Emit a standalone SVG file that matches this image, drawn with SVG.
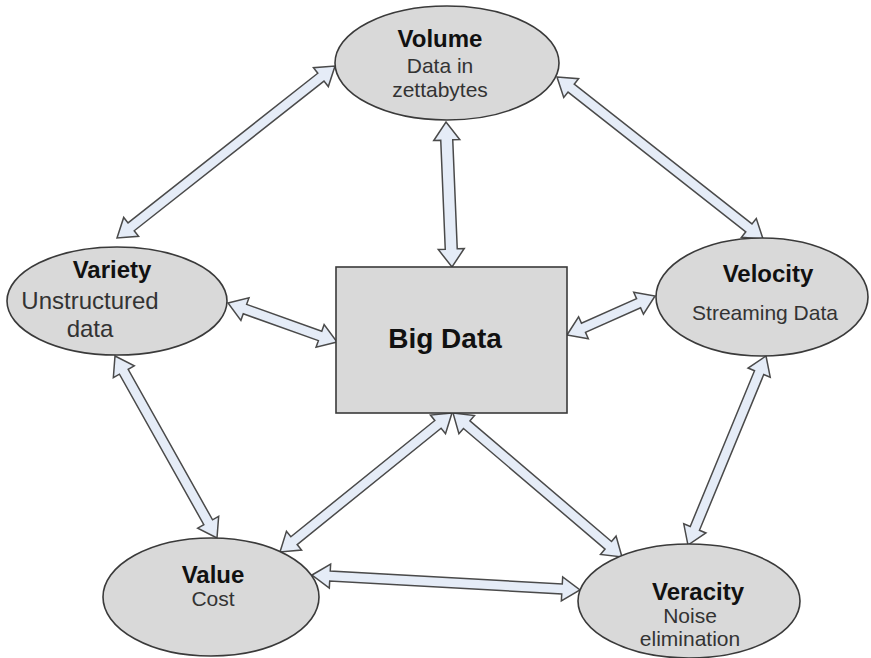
<svg xmlns="http://www.w3.org/2000/svg" width="871" height="658" viewBox="0 0 871 658">
<style>
.node{fill:#d9d9d9;stroke:#3a3a3a;stroke-width:1.6}
.arr{fill:#e5ecf7;stroke:#4a4a4a;stroke-width:1.5;stroke-linejoin:miter}
.t{font-family:"Liberation Sans",Arial,sans-serif;font-weight:bold;font-size:24px;fill:#111;text-anchor:middle}
.s{font-family:"Liberation Sans",Arial,sans-serif;font-size:21px;fill:#333;text-anchor:middle}
</style>
<rect width="871" height="658" fill="#fff"/>
<g id="connectors">
<polygon class="arr" transform="translate(117,238) rotate(-38.27)" points="0,0 18,-12 18,-5 259.7,-5 259.7,-12 277.7,0 259.7,12 259.7,5 18,5 18,12"/>
<polygon class="arr" transform="translate(446,122) rotate(87.63)" points="0,0 18,-13 18,-6 127.1,-6 127.1,-13 145.1,0 127.1,13 127.1,6 18,6 18,13"/>
<polygon class="arr" transform="translate(557,77) rotate(38.18)" points="0,0 18,-12 18,-5 244.1,-5 244.1,-12 262.1,0 244.1,12 244.1,5 18,5 18,12"/>
<polygon class="arr" transform="translate(228,303) rotate(19.69)" points="0,0 18,-12 18,-5 97.8,-5 97.8,-12 115.8,0 97.8,12 97.8,5 18,5 18,12"/>
<polygon class="arr" transform="translate(567,335) rotate(-23.9)" points="0,0 18,-12 18,-5 78.3,-5 78.3,-12 96.3,0 78.3,12 78.3,5 18,5 18,12"/>
<polygon class="arr" transform="translate(115,356) rotate(60.73)" points="0,0 18,-12 18,-5 190.6,-5 190.6,-12 208.6,0 190.6,12 190.6,5 18,5 18,12"/>
<polygon class="arr" transform="translate(280,552) rotate(-38.94)" points="0,0 18,-12 18,-5 203.1,-5 203.1,-12 221.1,0 203.1,12 203.1,5 18,5 18,12"/>
<polygon class="arr" transform="translate(453,413) rotate(40.43)" points="0,0 18,-12 18,-5 204,-5 204,-12 222,0 204,12 204,5 18,5 18,12"/>
<polygon class="arr" transform="translate(766,356) rotate(112.43)" points="0,0 18,-12 18,-5 186.5,-5 186.5,-12 204.5,0 186.5,12 186.5,5 18,5 18,12"/>
<polygon class="arr" transform="translate(312,575) rotate(3.2)" points="0,0 18,-12 18,-5 250.4,-5 250.4,-12 268.4,0 250.4,12 250.4,5 18,5 18,12"/>
</g>
<g id="bigdata">
<rect class="node" x="336" y="267" width="231" height="146"/>
<text class="t" x="445" y="348" style="font-size:28px">Big Data</text>
</g>
<g id="volume">
<ellipse class="node" cx="447" cy="63" rx="112" ry="57"/>
<text class="t" x="440" y="47">Volume</text>
<text class="s" x="440" y="73">Data in</text>
<text class="s" x="440" y="97">zettabytes</text>
</g>
<g id="variety">
<ellipse class="node" cx="117" cy="301" rx="110" ry="54"/>
<text class="t" x="112" y="278">Variety</text>
<text class="s" x="90" y="309" style="font-size:24px">Unstructured</text>
<text class="s" x="90" y="337" style="font-size:24px">data</text>
</g>
<g id="velocity">
<ellipse class="node" cx="762" cy="297" rx="106" ry="59"/>
<text class="t" x="768" y="282">Velocity</text>
<text class="s" x="765" y="320">Streaming Data</text>
</g>
<g id="value">
<ellipse class="node" cx="211" cy="597" rx="108" ry="59"/>
<text class="t" x="213" y="583">Value</text>
<text class="s" x="213" y="606">Cost</text>
</g>
<g id="veracity">
<ellipse class="node" cx="689" cy="601" rx="111" ry="57"/>
<text class="t" x="698" y="600">Veracity</text>
<text class="s" x="690" y="623">Noise</text>
<text class="s" x="690" y="646">elimination</text>
</g>
</svg>
